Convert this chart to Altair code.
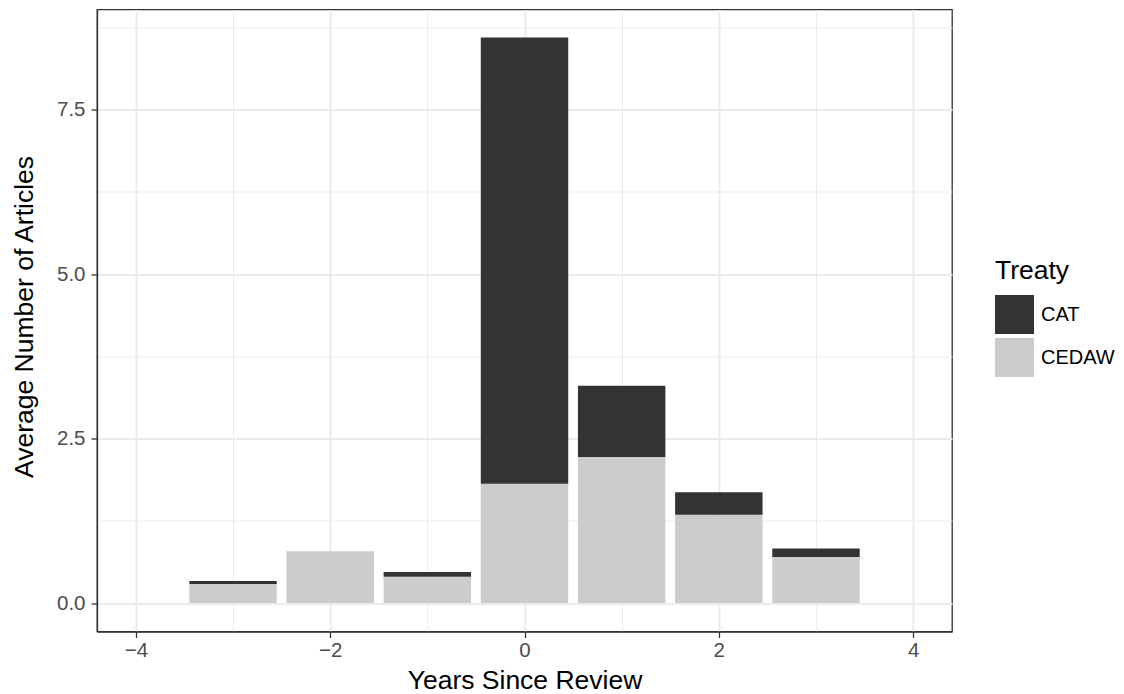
import altair as alt
import pandas as pd

years = [-3, -2, -1, 0, 1, 2, 3]
cedaw = [0.29, 0.786, 0.40, 1.814, 2.22, 1.343, 0.70]
cat = [0.045, 0.0, 0.07, 6.782, 1.08, 0.34, 0.13]
treaties = ["CAT", "CEDAW"]
colors = ["#333333", "#CCCCCC"]
x_major = [-4, -2, 0, 2, 4]
x_minor = [-3, -1, 1, 3]
y_major = [0, 2.5, 5, 7.5]
y_minor = [1.25, 3.75, 6.25, 8.75]

rows = []
for i, yr in enumerate(years):
    rows.append({"year": yr, "Treaty": "CEDAW", "value": cedaw[i], "ord": 0})
    rows.append({"year": yr, "Treaty": "CAT", "value": cat[i], "ord": 1})
df = pd.DataFrame(rows)

FONT = "Liberation Sans"
TITLE = 26.5
LABEL = 20.5
LEGLABEL = 20
xscale = alt.Scale(domain=[-4.4, 4.4], nice=False, zero=False)
yscale = alt.Scale(domain=[-0.433, 9.02], nice=False, zero=False)

base = alt.Chart(df).transform_window(
    y1="sum(value)", groupby=["year"], sort=[alt.SortField("ord", order="ascending")],
    frame=[None, 0]
).transform_calculate(
    y0="datum.y1 - datum.value",
    xs="datum.year - 0.45",
    xe="datum.year + 0.45",
)

bars = base.mark_rect().encode(
    x=alt.X("xs:Q", scale=xscale, axis=alt.Axis(
        values=x_major, grid=True, gridColor="#EBEBEB", gridWidth=2,
        title="Years Since Review", titleFontSize=TITLE, titleFont=FONT,
        titleFontWeight="normal", titleColor="#000000",
        titleY=57, titleBaseline="alphabetic",
        labelFontSize=LABEL, labelFont=FONT, labelColor="#4D4D4D", labelPadding=3,
        tickSize=6, tickColor="#333333", tickWidth=1.3,
        domainColor="#333333", domainWidth=1.3, format="d")),
    x2="xe:Q",
    y=alt.Y("y0:Q", scale=yscale, axis=alt.Axis(
        values=y_major, grid=True, gridColor="#EBEBEB", gridWidth=2,
        title="Average Number of Articles", titleFontSize=TITLE, titleFont=FONT,
        titleFontWeight="normal", titleColor="#000000",
        titleX=-73, titleY=307, titleBaseline="middle", titleAngle=270,
        labelFontSize=LABEL, labelFont=FONT, labelColor="#4D4D4D", labelPadding=6,
        tickSize=6, tickColor="#333333", tickWidth=1.3,
        domainColor="#333333", domainWidth=1.3, format=".1f")),
    y2="y1:Q",
    color=alt.Color("Treaty:N", scale=alt.Scale(domain=treaties, range=colors),
                    legend=alt.Legend(
                        orient="none", legendX=898, legendY=248,
                        title="Treaty", titleFontSize=TITLE, titleFont=FONT,
                        titleFontWeight="normal", titleColor="#000000",
                        titlePadding=11, labelFontSize=LEGLABEL, labelFont=FONT,
                        labelColor="#000000", labelOffset=7,
                        symbolType="square", symbolSize=1521, symbolStrokeWidth=0,
                        symbolOpacity=1, rowPadding=4, padding=0)),
)

minor = base.mark_rect(opacity=0).encode(
    x=alt.X("xs:Q", scale=xscale, axis=alt.Axis(
        orient="top", values=x_minor, grid=True, gridColor="#EBEBEB", gridWidth=1,
        labels=False, ticks=False, domain=False, title="")),
    y=alt.Y("y0:Q", scale=yscale, axis=alt.Axis(
        orient="right", values=y_minor, grid=True, gridColor="#EBEBEB", gridWidth=1,
        labels=False, ticks=False, domain=False, title="")),
)

chart = alt.layer(minor, bars).resolve_axis(
    x="independent", y="independent"
).properties(
    width=855, height=622,
    autosize=alt.AutoSizeParams(type="none"),
    padding={"left": 89, "top": 1.5, "right": 164, "bottom": 63},
).configure_view(
    stroke="#333333", strokeWidth=1.3
)

chart.save("out.html", embed_options={"renderer": "svg", "actions": False})
